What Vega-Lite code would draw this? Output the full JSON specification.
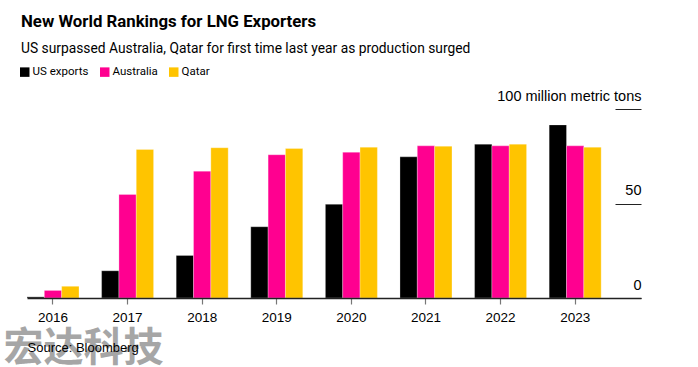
{
  "$schema": "https://vega.github.io/schema/vega-lite/v6.json",
  "width": 614,
  "height": 189,
  "autosize": {"type": "none"},
  "padding": {"left": 27, "top": 109, "right": 57, "bottom": 69},
  "background": "white",
  "title": {
    "text": "New World Rankings for LNG Exporters",
    "subtitle": "US surpassed Australia, Qatar for first time last year as production surged",
    "anchor": "start",
    "frame": "group",
    "dx": -6,
    "font": "Roboto",
    "fontSize": 16.8,
    "fontWeight": "bold",
    "color": "#000000",
    "subtitleFont": "Roboto",
    "subtitleFontSize": 13.8,
    "subtitleColor": "#000000",
    "subtitlePadding": 10.5,
    "offset": 10.5
  },
  "data": {
    "values": [
      {"year": "2016", "series": "US exports", "value": 0.6},
      {"year": "2016", "series": "Australia", "value": 4.0},
      {"year": "2016", "series": "Qatar", "value": 6.2},
      {"year": "2017", "series": "US exports", "value": 14.4},
      {"year": "2017", "series": "Australia", "value": 54.8},
      {"year": "2017", "series": "Qatar", "value": 78.6},
      {"year": "2018", "series": "US exports", "value": 22.5},
      {"year": "2018", "series": "Australia", "value": 67.1},
      {"year": "2018", "series": "Qatar", "value": 79.5},
      {"year": "2019", "series": "US exports", "value": 37.7},
      {"year": "2019", "series": "Australia", "value": 75.8},
      {"year": "2019", "series": "Qatar", "value": 79.1},
      {"year": "2020", "series": "US exports", "value": 49.6},
      {"year": "2020", "series": "Australia", "value": 77.1},
      {"year": "2020", "series": "Qatar", "value": 79.8},
      {"year": "2021", "series": "US exports", "value": 74.7},
      {"year": "2021", "series": "Australia", "value": 80.5},
      {"year": "2021", "series": "Qatar", "value": 80.3},
      {"year": "2022", "series": "US exports", "value": 81.4},
      {"year": "2022", "series": "Australia", "value": 80.5},
      {"year": "2022", "series": "Qatar", "value": 81.4},
      {"year": "2023", "series": "US exports", "value": 91.6},
      {"year": "2023", "series": "Australia", "value": 80.5},
      {"year": "2023", "series": "Qatar", "value": 79.8}
    ]
  },
  "mark": {"type": "bar", "stroke": "white", "strokeWidth": 0.8, "strokeOpacity": 0.35},
  "encoding": {
    "x": {
      "field": "year",
      "type": "nominal",
      "scale": {"paddingInner": 0.303, "paddingOuter": 0.267, "align": 0},
      "axis": {
        "title": "Source: Bloomberg",
        "titleFont": "Liberation Sans",
        "titleFontSize": 13,
        "titleFontWeight": "normal",
        "titleColor": "#000000",
        "titleAnchor": "start",
        "titleAlign": "left",
        "titleBaseline": "alphabetic",
        "titleX": 0,
        "titleY": 53,
        "labelAngle": 0,
        "labelFont": "Liberation Sans",
        "labelFontSize": 13.5,
        "labelColor": "#000000",
        "labelPadding": 6,
        "tickSize": 6,
        "tickColor": "#777777",
        "tickWidth": 1.2,
        "domainColor": "#222222",
        "domainWidth": 1.5,
        "zindex": 1
      }
    },
    "xOffset": {"field": "series", "type": "nominal", "sort": ["US exports", "Australia", "Qatar"]},
    "y": {
      "field": "value",
      "type": "quantitative",
      "scale": {"domain": [0, 100], "nice": false},
      "axis": {
        "orient": "right",
        "values": [0, 50, 100],
        "labelExpr": "datum.value == 100 ? '100 million metric tons' : datum.label",
        "domain": false,
        "grid": false,
        "tickSize": -26,
        "tickColor": "#222222",
        "tickWidth": 1,
        "labelAlign": "right",
        "labelBaseline": "alphabetic",
        "labelPadding": 26,
        "labelOffset": -9,
        "labelFont": "Liberation Sans",
        "labelFontSize": 14.5,
        "labelColor": "#000000",
        "title": "宏达科技",
        "titleFont": "Noto Sans CJK SC",
        "titleFontSize": 40,
        "titleFontWeight": "bold",
        "titleColor": "#a6a6a6",
        "titleAngle": 0,
        "titleAlign": "left",
        "titleBaseline": "middle",
        "titleX": -638,
        "titleY": 239,
        "zindex": 0
      }
    },
    "color": {
      "field": "series",
      "type": "nominal",
      "sort": ["US exports", "Australia", "Qatar"],
      "scale": {"domain": ["US exports", "Australia", "Qatar"], "range": ["#000000", "#ff0090", "#ffc400"]},
      "legend": {
        "title": null,
        "orient": "none",
        "direction": "horizontal",
        "legendX": -8,
        "legendY": -43,
        "symbolType": "square",
        "symbolSize": 90,
        "symbolStrokeWidth": 0,
        "symbolOpacity": 1,
        "labelFont": "Roboto",
        "labelFontSize": 11.5,
        "labelColor": "#000000",
        "labelOffset": 2,
        "columnPadding": 10,
        "padding": 0
      }
    }
  },
  "config": {"view": {"stroke": null}}
}
